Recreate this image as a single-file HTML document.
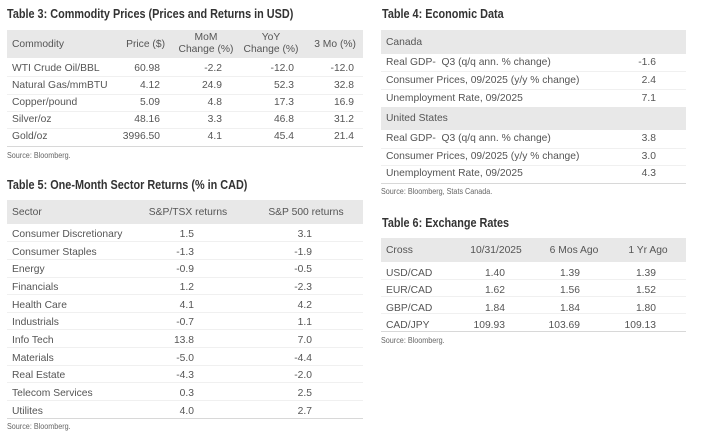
<!DOCTYPE html>
<html><head><style>
body{margin:0;width:704px;height:441px;background:#fff;position:relative;overflow:hidden;font-family:"Liberation Sans",sans-serif;color:#555;}
.t{position:absolute;font-family:"Liberation Sans",sans-serif;font-weight:bold;font-size:13px;color:#333;white-space:nowrap;transform:scaleX(0.835);transform-origin:0 0;}
.s{position:absolute;font-size:8px;color:#666;white-space:nowrap;transform:scaleX(0.9);transform-origin:0 0;}
.g{position:absolute;background:#e8e8e8;}
.l{position:absolute;height:1px;background:#f0f0f0;}
.b{position:absolute;height:1px;background:#d8d8d8;}
.x{position:absolute;font-size:10.3px;white-space:nowrap;line-height:12px;}
.r{text-align:right;}
.c{text-align:center;}
</style></head><body>
<!-- Table 3 -->
<div class="t" style="left:7px;top:6px">Table 3: Commodity Prices (Prices and Returns in USD)</div>
<div class="g" style="left:7px;top:30px;width:356px;height:28px"></div>
<div class="x" style="left:12px;top:39px">Commodity</div>
<div class="x r" style="left:100px;top:39px;width:65px">Price ($)</div>
<div class="x c" style="left:174px;top:32px;width:64px">MoM<br>Change (%)</div>
<div class="x c" style="left:238px;top:32px;width:66px">YoY<br>Change (%)</div>
<div class="x r" style="left:300px;top:39px;width:56px">3 Mo (%)</div>
<div class="l" style="left:7px;top:76px;width:356px"></div>
<div class="l" style="left:7px;top:94px;width:356px"></div>
<div class="l" style="left:7px;top:111px;width:356px"></div>
<div class="l" style="left:7px;top:128px;width:356px"></div>
<div class="b" style="left:7px;top:146px;width:356px"></div>
<div class="x" style="left:12px;top:63px">WTI Crude Oil/BBL</div>
<div class="x" style="left:12px;top:80px">Natural Gas/mmBTU</div>
<div class="x" style="left:12px;top:97px">Copper/pound</div>
<div class="x" style="left:12px;top:114px">Silver/oz</div>
<div class="x" style="left:12px;top:131px">Gold/oz</div>
<div class="x r" style="left:100px;top:63px;width:60px">60.98</div>
<div class="x r" style="left:100px;top:80px;width:60px">4.12</div>
<div class="x r" style="left:100px;top:97px;width:60px">5.09</div>
<div class="x r" style="left:100px;top:114px;width:60px">48.16</div>
<div class="x r" style="left:100px;top:131px;width:60px">3996.50</div>
<div class="x r" style="left:180px;top:63px;width:42px">-2.2</div>
<div class="x r" style="left:180px;top:80px;width:42px">24.9</div>
<div class="x r" style="left:180px;top:97px;width:42px">4.8</div>
<div class="x r" style="left:180px;top:114px;width:42px">3.3</div>
<div class="x r" style="left:180px;top:131px;width:42px">4.1</div>
<div class="x r" style="left:250px;top:63px;width:44px">-12.0</div>
<div class="x r" style="left:250px;top:80px;width:44px">52.3</div>
<div class="x r" style="left:250px;top:97px;width:44px">17.3</div>
<div class="x r" style="left:250px;top:114px;width:44px">46.8</div>
<div class="x r" style="left:250px;top:131px;width:44px">45.4</div>
<div class="x r" style="left:310px;top:63px;width:44px">-12.0</div>
<div class="x r" style="left:310px;top:80px;width:44px">32.8</div>
<div class="x r" style="left:310px;top:97px;width:44px">16.9</div>
<div class="x r" style="left:310px;top:114px;width:44px">31.2</div>
<div class="x r" style="left:310px;top:131px;width:44px">21.4</div>
<div class="s" style="left:7px;top:151px">Source: Bloomberg.</div>

<!-- Table 5 -->
<div class="t" style="left:7px;top:177px">Table 5: One-Month Sector Returns (% in CAD)</div>
<div class="g" style="left:7px;top:200px;width:356px;height:24px"></div>
<div class="x" style="left:12px;top:207px">Sector</div>
<div class="x c" style="left:138px;top:207px;width:100px">S&amp;P/TSX returns</div>
<div class="x c" style="left:256px;top:207px;width:100px">S&amp;P 500 returns</div>
<div class="l" style="left:7px;top:241px;width:356px"></div>
<div class="l" style="left:7px;top:259px;width:356px"></div>
<div class="l" style="left:7px;top:277px;width:356px"></div>
<div class="l" style="left:7px;top:294px;width:356px"></div>
<div class="l" style="left:7px;top:312px;width:356px"></div>
<div class="l" style="left:7px;top:329px;width:356px"></div>
<div class="l" style="left:7px;top:347px;width:356px"></div>
<div class="l" style="left:7px;top:365px;width:356px"></div>
<div class="l" style="left:7px;top:382px;width:356px"></div>
<div class="l" style="left:7px;top:400px;width:356px"></div>
<div class="b" style="left:7px;top:418px;width:356px"></div>
<div class="x" style="left:12px;top:226px;line-height:17.65px">Consumer Discretionary<br>Consumer Staples<br>Energy<br>Financials<br>Health Care<br>Industrials<br>Info Tech<br>Materials<br>Real Estate<br>Telecom Services<br>Utilites</div>
<div class="x r" style="left:150px;top:226px;width:44px;line-height:17.65px">1.5<br>-1.3<br>-0.9<br>1.2<br>4.1<br>-0.7<br>13.8<br>-5.0<br>-4.3<br>0.3<br>4.0</div>
<div class="x r" style="left:268px;top:226px;width:44px;line-height:17.65px">3.1<br>-1.9<br>-0.5<br>-2.3<br>4.2<br>1.1<br>7.0<br>-4.4<br>-2.0<br>2.5<br>2.7</div>
<div class="s" style="left:7px;top:422px">Source: Bloomberg.</div>

<!-- Table 4 -->
<div class="t" style="left:382px;top:6px">Table 4: Economic Data</div>
<div class="g" style="left:381px;top:30px;width:305px;height:24px"></div>
<div class="x" style="left:386px;top:37px">Canada</div>
<div class="x" style="left:386px;top:57px">Real GDP-&nbsp; Q3 (q/q ann. % change)</div>
<div class="x" style="left:386px;top:75px">Consumer Prices, 09/2025 (y/y % change)</div>
<div class="x" style="left:386px;top:93px">Unemployment Rate, 09/2025</div>
<div class="x r" style="left:610px;top:57px;width:46px">-1.6</div>
<div class="x r" style="left:610px;top:75px;width:46px">2.4</div>
<div class="x r" style="left:610px;top:93px;width:46px">7.1</div>
<div class="l" style="left:381px;top:71px;width:305px"></div>
<div class="l" style="left:381px;top:89px;width:305px"></div>
<div class="g" style="left:381px;top:107px;width:305px;height:23px"></div>
<div class="x" style="left:386px;top:113px">United States</div>
<div class="x" style="left:386px;top:133px">Real GDP-&nbsp; Q3 (q/q ann. % change)</div>
<div class="x" style="left:386px;top:151px">Consumer Prices, 09/2025 (y/y % change)</div>
<div class="x" style="left:386px;top:168px">Unemployment Rate, 09/2025</div>
<div class="x r" style="left:610px;top:133px;width:46px">3.8</div>
<div class="x r" style="left:610px;top:151px;width:46px">3.0</div>
<div class="x r" style="left:610px;top:168px;width:46px">4.3</div>
<div class="l" style="left:381px;top:148px;width:305px"></div>
<div class="l" style="left:381px;top:165px;width:305px"></div>
<div class="b" style="left:381px;top:183px;width:305px"></div>
<div class="s" style="left:381px;top:187px">Source: Bloomberg, Stats Canada.</div>

<!-- Table 6 -->
<div class="t" style="left:382px;top:215px">Table 6: Exchange Rates</div>
<div class="g" style="left:381px;top:238px;width:305px;height:24px"></div>
<div class="x" style="left:386px;top:245px">Cross</div>
<div class="x c" style="left:458px;top:245px;width:76px">10/31/2025</div>
<div class="x c" style="left:536px;top:245px;width:76px">6 Mos Ago</div>
<div class="x c" style="left:610px;top:245px;width:76px">1 Yr Ago</div>
<div class="x" style="left:386px;top:265px;line-height:17.3px">USD/CAD<br>EUR/CAD<br>GBP/CAD<br>CAD/JPY</div>
<div class="x r" style="left:460px;top:265px;width:45px;line-height:17.3px">1.40<br>1.62<br>1.84<br>109.93</div>
<div class="x r" style="left:535px;top:265px;width:45px;line-height:17.3px">1.39<br>1.56<br>1.84<br>103.69</div>
<div class="x r" style="left:611px;top:265px;width:45px;line-height:17.3px">1.39<br>1.52<br>1.80<br>109.13</div>
<div class="l" style="left:381px;top:279px;width:305px"></div>
<div class="l" style="left:381px;top:296px;width:305px"></div>
<div class="l" style="left:381px;top:313px;width:305px"></div>
<div class="b" style="left:381px;top:331px;width:305px"></div>
<div class="s" style="left:381px;top:336px">Source: Bloomberg.</div>
</body></html>
